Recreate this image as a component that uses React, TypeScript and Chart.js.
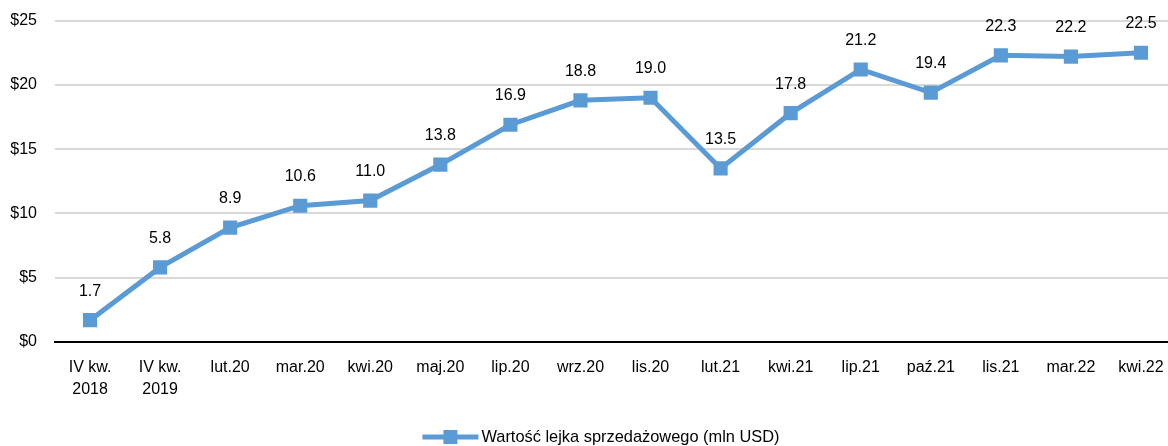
import React, { useEffect, useRef } from "react";
import { Chart, registerables } from "chart.js";

Chart.register(...registerables);

const categories: (string | string[])[] = [
  ["IV kw.", "2018"], ["IV kw.", "2019"], "lut.20", "mar.20", "kwi.20", "maj.20", "lip.20", "wrz.20",
  "lis.20", "lut.21", "kwi.21", "lip.21", "paź.21", "lis.21", "mar.22", "kwi.22",
];
const values = [1.7, 5.8, 8.9, 10.6, 11.0, 13.8, 16.9, 18.8, 19.0, 13.5, 17.8, 21.2, 19.4, 22.3, 22.2, 22.5];
const seriesName = "Wartość lejka sprzedażowego (mln USD)";
const yTicks = [0, 5, 10, 15, 20, 25];

const BLUE = "#5B9BD5";
const FONT = "'Liberation Sans', Arial, sans-serif";
const SHIFT = 7;

const labelPlugin = {
  id: "labels",
  afterDatasetsDraw(chart: any) {
    const ctx = chart.ctx;
    const meta = chart.getDatasetMeta(0);
    ctx.save();
    ctx.font = `16px ${FONT}`;
    ctx.fillStyle = "#000";
    ctx.textAlign = "center";
    ctx.textBaseline = "middle";
    meta.data.forEach((pt: any, i: number) => {
      ctx.fillText(values[i].toFixed(1), pt.x, pt.y - 29);
    });
    // legend
    const cx = 601;
    const y = 437 + SHIFT;
    ctx.font = `16.4px ${FONT}`;
    const tw = ctx.measureText(seriesName).width;
    const total = 59 + tw;
    const x0 = cx - total / 2;
    ctx.strokeStyle = BLUE;
    ctx.lineWidth = 5;
    ctx.beginPath();
    ctx.moveTo(x0, y);
    ctx.lineTo(x0 + 56, y);
    ctx.stroke();
    ctx.fillStyle = BLUE;
    ctx.fillRect(x0 + 28 - 7, y - 7, 14, 14);
    ctx.fillStyle = "#000";
    ctx.textAlign = "left";
    ctx.fillText(seriesName, x0 + 59, y);
    ctx.restore();
  },
};

export default function App() {
  const ref = useRef<HTMLCanvasElement>(null);
  useEffect(() => {
    if (!ref.current) return;
    const chart = new Chart(ref.current, {
      type: "line",
      data: {
        labels: categories,
        datasets: [
          {
            label: seriesName,
            data: values,
            borderColor: BLUE,
            backgroundColor: BLUE,
            borderWidth: 5,
            pointStyle: "rect",
            pointRadius: 10,
            pointBorderWidth: 0,
            pointBackgroundColor: BLUE,
            tension: 0,
          },
        ],
      },
      options: {
        responsive: false,
        animation: false,
        layout: { padding: { top: 14, bottom: 42, left: 0, right: 0 } },
        plugins: { legend: { display: false }, tooltip: { enabled: false } },
        scales: {
          x: {
            offset: true,
            grid: { display: false, drawTicks: false },
            border: { display: true, color: "#000", width: 2 },
            ticks: {
              color: "#000",
              font: { family: FONT, size: 16, lineHeight: 1.4 },
              padding: 14,
              maxRotation: 0,
              autoSkip: false,
            },
            afterFit(scale: any) {
              scale.height = 62;
            },
          },
          y: {
            min: 0,
            max: 25,
            afterBuildTicks(scale: any) {
              scale.ticks = yTicks.map((v) => ({ value: v }));
            },
            grid: { color: "#D9D9D9", lineWidth: 2, drawTicks: false },
            border: { display: false },
            ticks: {
              color: "#000",
              font: { family: FONT, size: 16 },
              padding: 18,
              callback: (v: any) => "$" + v,
            },
            afterFit(scale: any) {
              scale.width = 55;
            },
          },
        },
      },
      plugins: [labelPlugin],
    });
    return () => chart.destroy();
  }, []);
  return (
    <div style={{ position: "fixed", left: 0, top: 0, width: 1168, height: 446, overflow: "hidden", background: "#fff" }}>
      <canvas
        ref={ref}
        width={1186}
        height={446 + SHIFT}
        style={{ display: "block", position: "absolute", left: 0, top: -SHIFT, width: 1186, height: 446 + SHIFT }}
      />
    </div>
  );
}
